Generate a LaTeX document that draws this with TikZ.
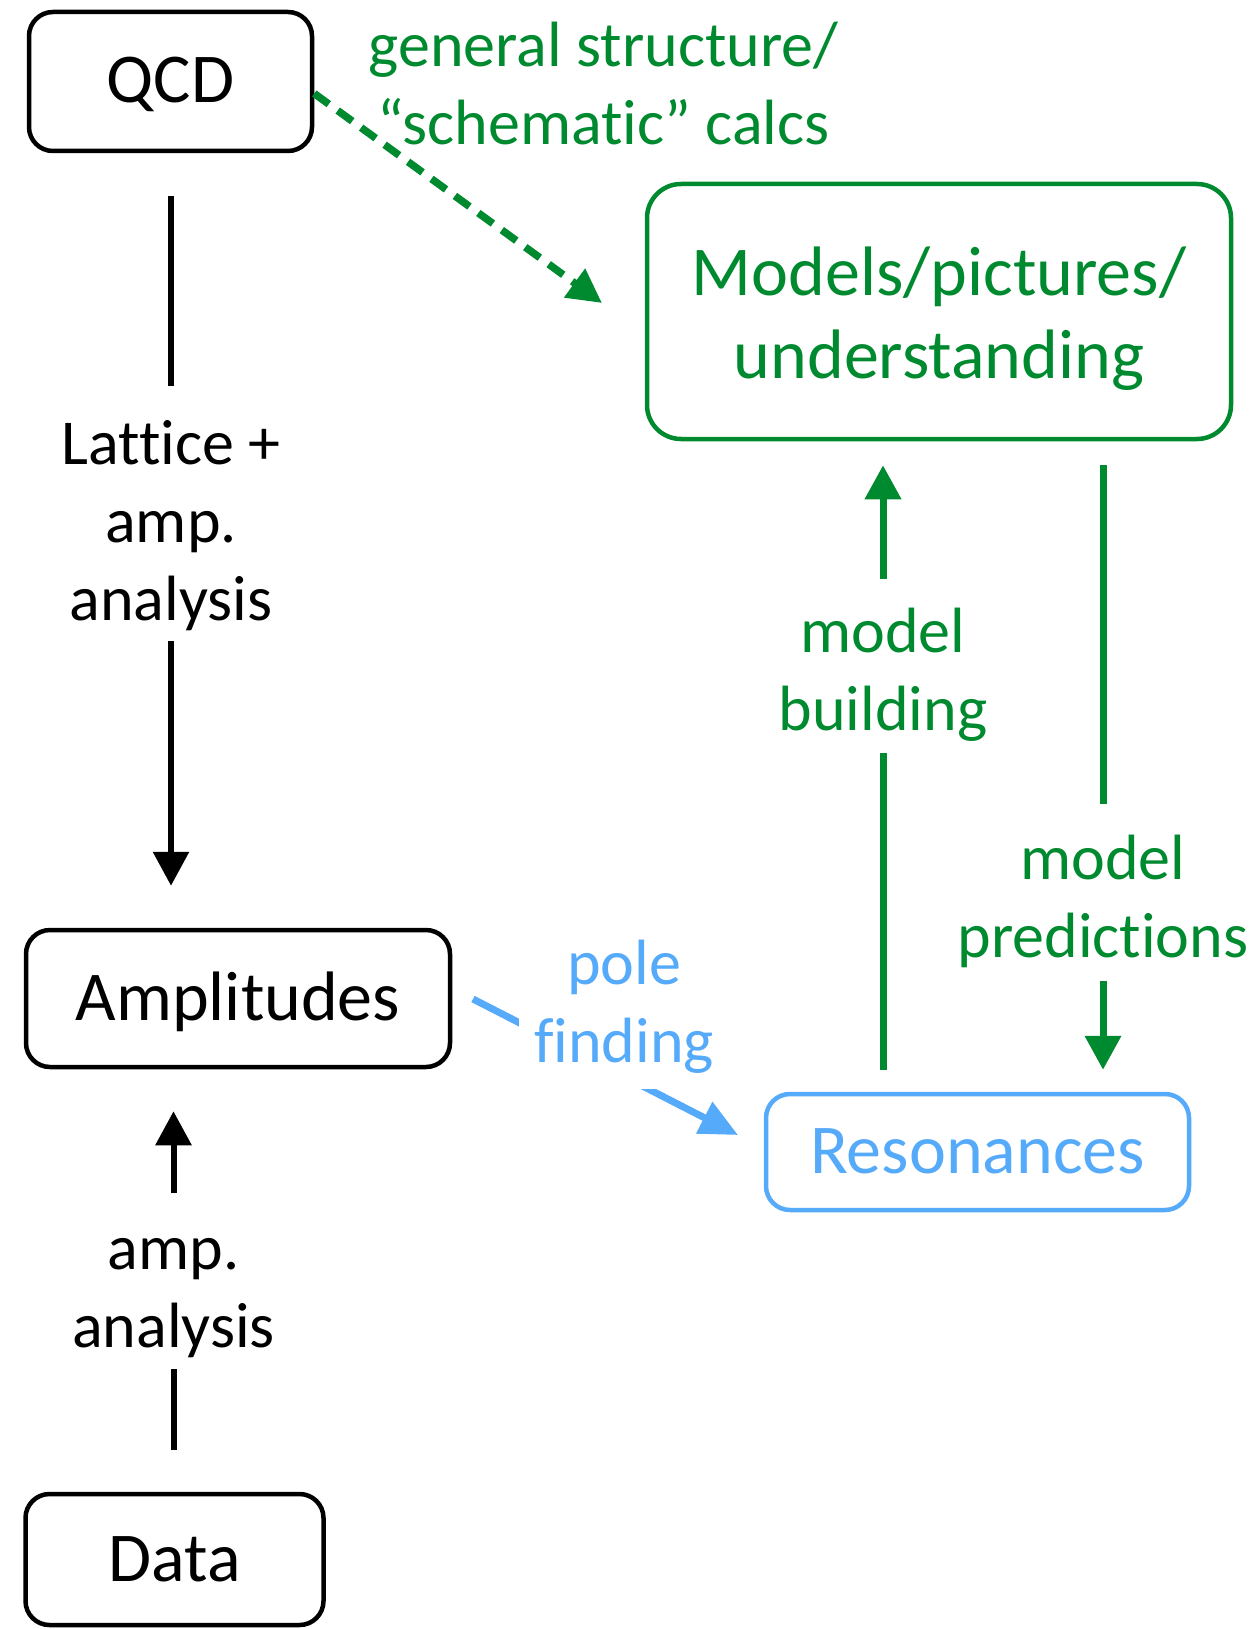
\documentclass[tikz,border=0pt]{standalone}
\usepackage{fontspec}
\setmainfont{Carlito}[Ligatures={TeX,NoCommon}]
\usetikzlibrary{arrows.meta}
\definecolor{gr}{RGB}{0,138,48}
\definecolor{bl}{RGB}{86,170,250}
\begin{document}
\begin{tikzpicture}[x=1pt,y=-1pt,
 box/.style={draw, rounded corners=24pt, line width=4.5pt, inner sep=0pt, align=center},
 big/.style={font=\fontsize{70}{83}\selectfont},
 one/.style={text height=43pt, text depth=0pt},
 lab/.style={font=\fontsize{64}{78}\selectfont, align=center, inner sep=0pt},
 blk/.style={line width=6pt},
 gl/.style={line width=7pt, draw=gr},
 tipb/.style={-{Triangle[length=34pt,width=35pt]}},
 tipg/.style={-{Triangle[length=34pt,width=35pt]}},
]
\useasboundingbox (0,0) rectangle (1258,1629);
\node[box,big,one,minimum width=283pt,minimum height=139pt] (QCD) at (170.5,81.5) {QCD};
\node[box,big,draw=gr,text=gr,rounded corners=34pt,minimum width=584pt,minimum height=255pt] (Mod) at (939,311.5) {\rule{0pt}{63pt}Models/pictures/\\understanding};
\node[box,big,one,minimum width=424pt,minimum height=137pt] (Amp) at (238,998.5) {Amplitudes};
\node[box,big,one,draw=bl,text=bl,minimum width=423pt,minimum height=116pt] (Res) at (977.5,1152) {Resonances};
\node[box,big,one,minimum width=298pt,minimum height=131pt] (Data) at (174.5,1559.5) {Data};

\node[lab] (lat) at (171,525.5) {Lattice +\\amp.\\analysis};
\node[lab] (ampl) at (173.5,1298.5) {amp.\\analysis};
\node[lab,text=gr] (mb) at (883,674.5) {model\\building};
\node[lab,text=gr] (mp) at (1103,901) {model\\predictions};
\node[lab,text=gr] (gs) at (603.5,83.5) {general structure/\\“schematic” calcs};

\draw[blk, shorten <=43pt, shorten >=34pt] (lat |- QCD.south) -- (lat.north);
\draw[blk, tipb, shorten <=10pt, shorten >=42pt] (lat.south) -- (lat |- Amp.north);
\draw[blk, shorten <=42pt, shorten >=11pt] (ampl |- Data.north) -- (ampl.south);
\draw[blk, tipb, shorten <=46pt, shorten >=42pt] (ampl.north) -- (ampl |- Amp.south);

\draw[gl, shorten <=22pt, shorten >=12pt] (mb |- Res.north) -- (mb.south);
\draw[gl, tipg, shorten <=29pt, shorten >=24pt] (mb.north) -- (mb |- Mod.south);
\draw[gl, shorten <=24pt, shorten >=30pt] (mp |- Mod.south) -- (mp.north);
\draw[gl, tipg, shorten <=13pt, shorten >=22pt] (mp.south) -- (mp |- Res.north);

\coordinate (dtip) at (602,303);
\draw[gl, line width=7.5pt, dash pattern=on 18pt off 11pt, -{Triangle[length=34pt,width=34pt]}] ([yshift=-12pt]QCD.east) -- (dtip);

\coordinate (b1) at (473,999);
\coordinate (b2) at (738,1135);
\draw[line width=7pt, draw=bl, -{Triangle[length=38pt,width=34pt]}] (b1) -- (b2);
\node[lab,text=bl,fill=white,minimum width=210pt,minimum height=165pt] (pf) at (624,1006.5) {pole\\finding};
\end{tikzpicture}
\end{document}
